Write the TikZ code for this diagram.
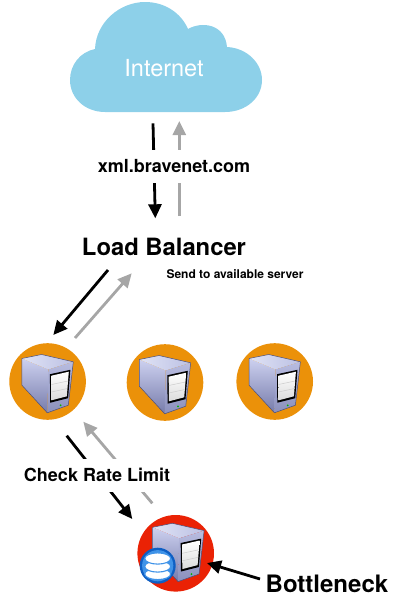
\documentclass[tikz,border=0pt]{standalone}
\usepackage{fontspec}
\setmainfont{TeX Gyre Heros}
\usetikzlibrary{arrows.meta,shapes.geometric}
\definecolor{cloudblue}{HTML}{8DD0E9}
\definecolor{discorange}{HTML}{EB9109}
\definecolor{discred}{HTML}{EA2205}
\definecolor{flowgray}{HTML}{A6A6A6}
\definecolor{srvtopa}{HTML}{E0E3F5}
\definecolor{srvtopb}{HTML}{BCC1E4}
\definecolor{srvsidea}{HTML}{CDD1F0}
\definecolor{srvsideb}{HTML}{767BAA}
\definecolor{srvfronta}{HTML}{B8BCE0}
\definecolor{srvfrontb}{HTML}{8B90BC}
\definecolor{srvedge}{HTML}{4A4E7A}
\definecolor{dbblue}{HTML}{0E5FC4}
\definecolor{dbmid}{HTML}{3F93E8}
\tikzset{
  x=1pt,y=-1pt,
  blackflow/.style={draw=black,line width=2.8pt,-{Triangle[length=14pt,width=13pt]}},
  grayflow/.style={draw=flowgray,line width=2.8pt,-{Triangle[length=14pt,width=13pt]}},
  lbl/.style={font=\bfseries\fontsize{18}{20}\selectfont,fill=white,inner sep=1pt,minimum height=33pt},
  pics/srv/.style={code={
    \shade[top color=srvsidea,bottom color=srvsideb]
      (-25.7,-23)--(0.7,-12)--(-0.3,31.3)--(-25.7,3.7)--cycle;
    \shade[left color=srvtopa,right color=srvtopb]
      (-25.7,-23)--(-6,-27)--(25.7,-19.7)--(0.7,-12)--cycle;
    \shade[top color=srvfronta,bottom color=srvfrontb]
      (0.7,-12)--(25.7,-19.7)--(20.7,23.7)--(-0.3,31.3)--cycle;
    \draw[srvedge,line width=.5pt,line join=round]
      (-25.7,-23)--(-6,-27)--(25.7,-19.7)--(20.7,23.7)--(-0.3,31.3)--(-25.7,3.7)--cycle;
    \fill[black] (2.3,-7.3)--(22.8,-11.7)--(20.5,16.7)--(2.6,21.2)--cycle;
    \shade[top color=white,bottom color=black!14] (3.7,-5.8)--(21.2,-9.8)--(19.2,14.8)--(3.9,18.8)--cycle;
    \draw[black!20,line width=.5pt] (3.8,3)--(20.4,-.5) (3.8,10.5)--(19.8,7);
    \fill[green!70!black] (13,23.8) circle (1pt);
  }}
}
\begin{document}
\begin{tikzpicture}
\useasboundingbox (0,0) rectangle (403,613);
% cloud
\fill[cloudblue] (105,112)
  .. controls (85,112) and (70,98) .. (70,80)
  .. controls (70,65) and (80,52) .. (95,49)
  .. controls (96,22) and (120,2) .. (145,2)
  .. controls (165,2) and (181,13) .. (188,29)
  .. controls (202,21) and (225,24) .. (227,47)
  .. controls (247,48) and (262,63) .. (262,80)
  .. controls (262,98) and (246,112) .. (225,112) -- cycle;
\node[text=white,font=\fontsize{23.5}{25}\selectfont,inner sep=0pt] (internet) at (164,68) {Internet};
% discs
\fill[discorange] (47.6,381.5) circle (38.3);
\fill[discorange] (165,382.5) circle (38.3);
\fill[discorange] (274.7,381.5) circle (38.3);
\fill[discred] (175.7,553.3) circle (38.3);
\pic at (47.6,381.5) {srv};
\pic at (165,382.5) {srv};
\pic at (274.7,381.5) {srv};
\pic at (178.4,550.3) {srv};
% database
\fill[dbblue] (157.7,565.7) circle (18);
\fill[dbmid] (157.7,565.7) circle (15.6);
\foreach \yy in {574,566.5,558.5}{
  \fill[white,draw=dbmid,line width=1.1pt] (157.7,\yy) ellipse (13 and 5.6);
}
% anchors
\coordinate (iA) at (153,123.3);
\coordinate (iB) at (179.3,121);
\coordinate (lA) at (155.3,218.3);
\coordinate (lB) at (179.3,216);
\coordinate (lC) at (108,270);
\coordinate (lD) at (131.7,273.3);
\coordinate (sA) at (53.3,335);
\coordinate (sB) at (75,338);
\coordinate (sC) at (66.7,435.7);
\coordinate (sD) at (83.3,421.7);
\coordinate (dA) at (132.3,519);
\coordinate (dB) at (152.3,503.3);
\coordinate (dC) at (207,563);
\coordinate (bC) at (260,579);
% connectors
\draw[blackflow] (iA) -- (lA);
\draw[grayflow] (lB) -- (iB);
\draw[blackflow] (lC) -- (sA);
\draw[grayflow] (sB) -- (lD);
\draw[blackflow] (sC) -- (dA);
\draw[grayflow] (dB) -- (sD);
\draw[blackflow] (bC) -- (dC);
% labels
\node[lbl] (xml) at (174,166) {xml.bravenet.com};
\node[lbl] (rate) at (97,475) {Check Rate Limit};
\node[font=\bfseries\fontsize{23.8}{26}\selectfont,inner sep=0pt] (lb) at (164,247) {Load Balancer};
\node[font=\bfseries\fontsize{12}{14}\selectfont,inner sep=0pt] (send) at (235,274) {Send to available server};
\node[font=\bfseries\fontsize{24}{26}\selectfont,inner sep=0pt] (bottle) at (327,584) {Bottleneck};
\end{tikzpicture}
\end{document}
